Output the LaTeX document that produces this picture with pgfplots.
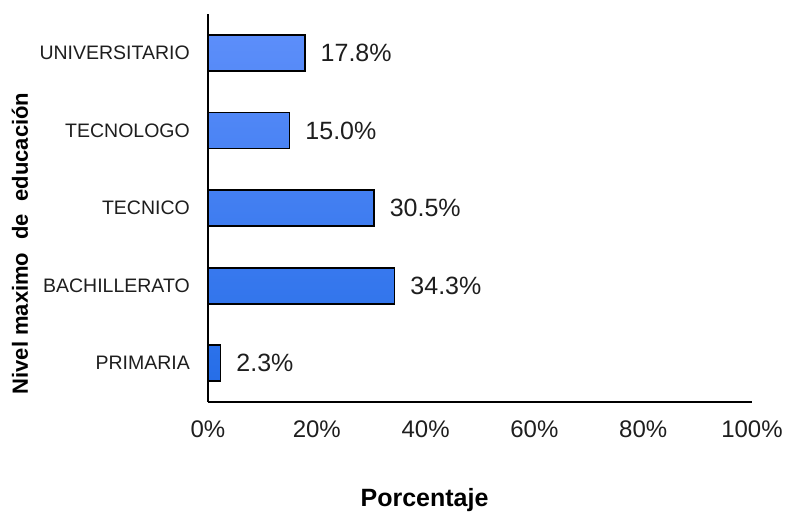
\documentclass[border=0pt]{standalone}
\usepackage{fontspec}
\setmainfont{Liberation Sans}
\usepackage{pgfplots}
\pgfplotsset{compat=1.18}
\definecolor{bartop}{RGB}{92,142,250}
\definecolor{barbot}{RGB}{38,110,232}
\definecolor{txt}{RGB}{30,30,30}
\begin{document}
\begin{tikzpicture}
\begin{axis}[
  scale only axis,
  width=544bp, height=388bp,
  xbar,
  xmin=0, xmax=100,
  ymin=-0.5, ymax=4.5,
  axis lines=left,
  axis line style={-, line width=1.6bp, black},
  major tick length=0pt,
  /pgf/number format/assume math mode=true,
  xtick={0,20,40,60,80,100},
  xticklabels={0\%,20\%,40\%,60\%,80\%,100\%},
  ytick={0,1,2,3,4},
  yticklabels={PRIMARIA,BACHILLERATO,TECNICO,TECNOLOGO,UNIVERSITARIO},
  xticklabel style={font=\fontsize{24bp}{26bp}\selectfont, text=txt, anchor=north, inner sep=0pt, yshift=-19bp},
  yticklabel style={font=\fontsize{19.5bp}{21bp}\selectfont, text=txt, anchor=east, inner sep=0pt, xshift=-18bp},
  bar width=36bp,
  every axis y label/.style={at={(axis description cs:-0.3456,0.4085)}, rotate=90, anchor=center},
  every axis x label/.style={at={(axis description cs:0.398,-0.2526)}, anchor=center},
  ylabel={\fontsize{22bp}{24bp}\selectfont\bfseries Nivel maximo\hspace{0.3em} de\hspace{0.3em} educación},
  xlabel={\fontsize{25bp}{27bp}\selectfont\bfseries Porcentaje},
  nodes near coords={\pgfmathprintnumber[fixed,fixed zerofill,precision=1,assume math mode=true]{\pgfplotspointmeta}\%},
  nodes near coords style={font=\fontsize{25bp}{27bp}\selectfont, text=txt, anchor=west, inner sep=0pt, xshift=15bp},
  clip=false,
]
\addplot[draw=black, line width=1.8bp, top color=bartop, bottom color=barbot] coordinates {
  (2.3,0) (34.3,1) (30.5,2) (15.0,3) (17.8,4)
};
\coordinate (sw) at (rel axis cs:0,0);
\coordinate (ne) at (rel axis cs:1,1);
\end{axis}
\pgfresetboundingbox
\path ([xshift=-208bp,yshift=-112bp]sw) rectangle ([xshift=35bp,yshift=14bp]ne);
\end{tikzpicture}
\end{document}
